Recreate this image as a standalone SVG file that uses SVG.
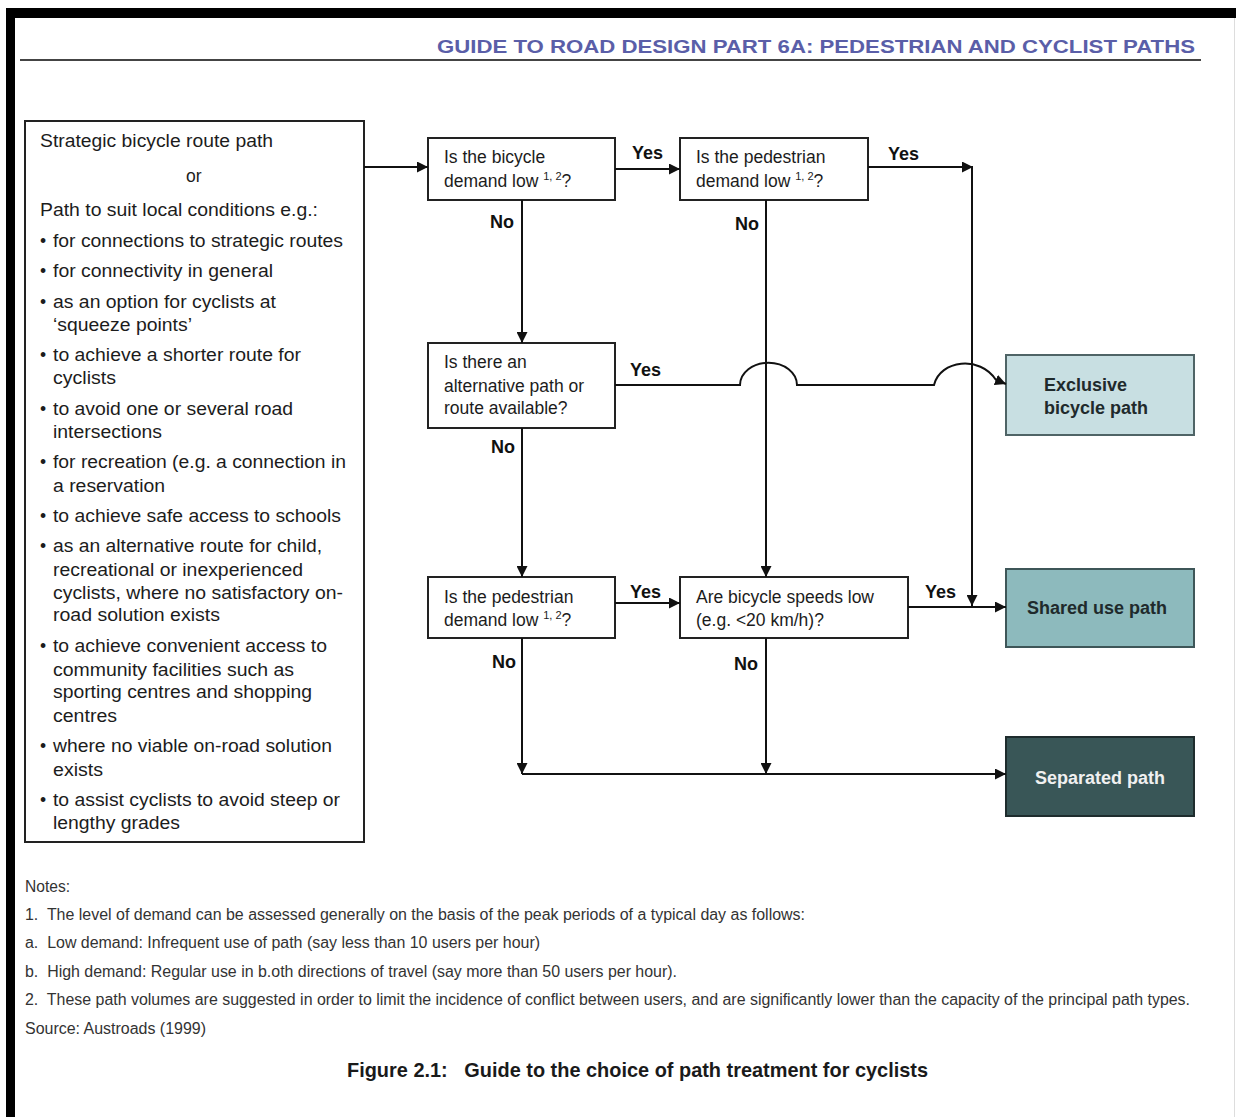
<svg xmlns="http://www.w3.org/2000/svg" width="1236" height="1117" viewBox="0 0 1236 1117">
<defs>
<marker id="ah" viewBox="0 0 10 10" refX="10" refY="5" markerWidth="11" markerHeight="11" markerUnits="userSpaceOnUse" orient="auto">
<path d="M0,0 L10,5 L0,10 z" fill="#111"/>
</marker>
</defs>
<style>
.t{font-family:"Liberation Sans",Arial,sans-serif;font-size:17.5px;fill:#1c1c1c}
.lbl{font-family:"Liberation Sans",Arial,sans-serif;font-size:18px;font-weight:bold;fill:#111}
.box{fill:#fff;stroke:#222;stroke-width:2}
.sup{font-size:11px}
.term{font-family:"Liberation Sans",Arial,sans-serif;font-size:18px;font-weight:bold}
.conn{fill:none;stroke:#111;stroke-width:2}
.note{font-family:"Liberation Sans",Arial,sans-serif;font-size:16px;fill:#333}
</style>
<rect x="0" y="0" width="1236" height="1117" fill="#fff"/>
<!-- frame -->
<rect x="6" y="8" width="1230" height="10" fill="#000"/>
<rect x="6" y="8" width="9" height="1109" fill="#000"/>
<line x1="1234.5" y1="18" x2="1234.5" y2="1117" stroke="#ddd" stroke-width="1"/>
<!-- header -->
<text x="437" y="53" font-family="'Liberation Sans',Arial,sans-serif" font-size="19" font-weight="bold" fill="#5a5ea8" textLength="758" lengthAdjust="spacingAndGlyphs">GUIDE TO ROAD DESIGN PART 6A: PEDESTRIAN AND CYCLIST PATHS</text>
<line x1="20" y1="60" x2="1201" y2="60" stroke="#444" stroke-width="2"/>

<!-- left box -->
<g id="source">
<rect class="box" x="25" y="121" width="339" height="721"/>
<text class="t" x="40" y="147" textLength="233" lengthAdjust="spacingAndGlyphs">Strategic bicycle route path</text>
<text class="t" x="186" y="182">or</text>
<text class="t" x="40" y="216" textLength="278" lengthAdjust="spacingAndGlyphs">Path to suit local conditions e.g.:</text>
<g class="t">
<text x="40" y="247">•</text><text x="53" y="247" textLength="290" lengthAdjust="spacingAndGlyphs">for connections to strategic routes</text>
<text x="40" y="277">•</text><text x="53" y="277" textLength="220" lengthAdjust="spacingAndGlyphs">for connectivity in general</text>
<text x="40" y="308">•</text><text x="53" y="308" textLength="223" lengthAdjust="spacingAndGlyphs">as an option for cyclists at</text>
<text x="53" y="331" textLength="139" lengthAdjust="spacingAndGlyphs">‘squeeze points’</text>
<text x="40" y="361">•</text><text x="53" y="361" textLength="248" lengthAdjust="spacingAndGlyphs">to achieve a shorter route for</text>
<text x="53" y="384" textLength="63" lengthAdjust="spacingAndGlyphs">cyclists</text>
<text x="40" y="415">•</text><text x="53" y="415" textLength="240" lengthAdjust="spacingAndGlyphs">to avoid one or several road</text>
<text x="53" y="438" textLength="109" lengthAdjust="spacingAndGlyphs">intersections</text>
<text x="40" y="468">•</text><text x="53" y="468" textLength="293" lengthAdjust="spacingAndGlyphs">for recreation (e.g. a connection in</text>
<text x="53" y="492" textLength="112" lengthAdjust="spacingAndGlyphs">a reservation</text>
<text x="40" y="522">•</text><text x="53" y="522" textLength="288" lengthAdjust="spacingAndGlyphs">to achieve safe access to schools</text>
<text x="40" y="552">•</text><text x="53" y="552" textLength="269" lengthAdjust="spacingAndGlyphs">as an alternative route for child,</text>
<text x="53" y="576" textLength="250" lengthAdjust="spacingAndGlyphs">recreational or inexperienced</text>
<text x="53" y="599" textLength="290" lengthAdjust="spacingAndGlyphs">cyclists, where no satisfactory on-</text>
<text x="53" y="621" textLength="167" lengthAdjust="spacingAndGlyphs">road solution exists</text>
<text x="40" y="652">•</text><text x="53" y="652" textLength="274" lengthAdjust="spacingAndGlyphs">to achieve convenient access to</text>
<text x="53" y="676" textLength="241" lengthAdjust="spacingAndGlyphs">community facilities such as</text>
<text x="53" y="698" textLength="259" lengthAdjust="spacingAndGlyphs">sporting centres and shopping</text>
<text x="53" y="722" textLength="64" lengthAdjust="spacingAndGlyphs">centres</text>
<text x="40" y="752">•</text><text x="53" y="752" textLength="279" lengthAdjust="spacingAndGlyphs">where no viable on-road solution</text>
<text x="53" y="776" textLength="50" lengthAdjust="spacingAndGlyphs">exists</text>
<text x="40" y="806">•</text><text x="53" y="806" textLength="287" lengthAdjust="spacingAndGlyphs">to assist cyclists to avoid steep or</text>
<text x="53" y="829" textLength="127" lengthAdjust="spacingAndGlyphs">lengthy grades</text>
</g>
</g>

<!-- decision nodes -->
<g id="q-bicycle-demand">
<rect class="box" x="428" y="138" width="187" height="62"/>
<text class="t" x="444" y="163">Is the bicycle</text>
<text class="t" x="444" y="187">demand low <tspan class="sup" dy="-7">1, 2</tspan><tspan dy="7">?</tspan></text>
</g>
<g id="q-ped-demand-1">
<rect class="box" x="680" y="138" width="188" height="62"/>
<text class="t" x="696" y="163">Is the pedestrian</text>
<text class="t" x="696" y="187">demand low <tspan class="sup" dy="-7">1, 2</tspan><tspan dy="7">?</tspan></text>
</g>
<g id="q-alternative">
<rect class="box" x="428" y="343" width="187" height="85"/>
<text class="t" x="444" y="368">Is there an</text>
<text class="t" x="444" y="392">alternative path or</text>
<text class="t" x="444" y="414">route available?</text>
</g>
<g id="q-ped-demand-2">
<rect class="box" x="428" y="577" width="187" height="61"/>
<text class="t" x="444" y="603">Is the pedestrian</text>
<text class="t" x="444" y="626">demand low <tspan class="sup" dy="-7">1, 2</tspan><tspan dy="7">?</tspan></text>
</g>
<g id="q-speed">
<rect class="box" x="680" y="577" width="228" height="61"/>
<text class="t" x="696" y="603">Are bicycle speeds low</text>
<text class="t" x="696" y="626">(e.g. &lt;20 km/h)?</text>
</g>

<!-- terminal nodes -->
<g id="exclusive">
<rect x="1006" y="355" width="188" height="80" fill="#c8dfe2" stroke="#4f6466" stroke-width="2"/>
<text class="term" x="1044" y="391" fill="#1f2a2c">Exclusive</text>
<text class="term" x="1044" y="414" fill="#1f2a2c">bicycle path</text>
</g>
<g id="shared">
<rect x="1006" y="569" width="188" height="78" fill="#8dbabd" stroke="#3e5658" stroke-width="2"/>
<text class="term" x="1097" y="614" text-anchor="middle" fill="#1f2a2c">Shared use path</text>
</g>
<g id="separated">
<rect x="1006" y="737" width="188" height="79" fill="#395657" stroke="#1e2c2d" stroke-width="2"/>
<text class="term" x="1100" y="784" text-anchor="middle" fill="#f0f0f0">Separated path</text>
</g>

<!-- connectors -->
<g id="connectors">
<path class="conn" d="M364,167 H428" marker-end="url(#ah)"/>
<path class="conn" d="M615,169 H680" marker-end="url(#ah)"/>
<path class="conn" d="M868,167 H973" marker-end="url(#ah)"/>
<path class="conn" d="M972,167 V606" marker-end="url(#ah)"/>
<path class="conn" d="M522,200 V343" marker-end="url(#ah)"/>
<path class="conn" d="M766,200 V577" marker-end="url(#ah)"/>
<path class="conn" d="M615,385 H740 A28,22 0 0 1 797,385 H934 C940,360 980,355 996,380 L1006,384" marker-end="url(#ah)"/>
<path class="conn" d="M615,603 H680" marker-end="url(#ah)"/>
<path class="conn" d="M908,607 H1006" marker-end="url(#ah)"/>
<path class="conn" d="M522,428 V577" marker-end="url(#ah)"/>
<path class="conn" d="M522,638 V774" marker-end="url(#ah)"/>
<path class="conn" d="M766,638 V774" marker-end="url(#ah)"/>
<path class="conn" d="M522,774 H1006" marker-end="url(#ah)"/>
<text class="lbl" x="632" y="159">Yes</text>
<text class="lbl" x="888" y="160">Yes</text>
<text class="lbl" x="490" y="228">No</text>
<text class="lbl" x="735" y="230">No</text>
<text class="lbl" x="630" y="376">Yes</text>
<text class="lbl" x="491" y="453">No</text>
<text class="lbl" x="630" y="598">Yes</text>
<text class="lbl" x="925" y="598">Yes</text>
<text class="lbl" x="492" y="668">No</text>
<text class="lbl" x="734" y="670">No</text>
</g>

<!-- notes -->
<g id="notes">
<text class="note" x="25" y="892" textLength="45" lengthAdjust="spacingAndGlyphs">Notes:</text>
<text class="note" x="25" y="920" textLength="780" lengthAdjust="spacingAndGlyphs">1.&#160; The level of demand can be assessed generally on the basis of the peak periods of a typical day as follows:</text>
<text class="note" x="25" y="948" textLength="515" lengthAdjust="spacingAndGlyphs">a.&#160; Low demand: Infrequent use of path (say less than 10 users per hour)</text>
<text class="note" x="25" y="977" textLength="652" lengthAdjust="spacingAndGlyphs">b.&#160; High demand: Regular use in b.oth directions of travel (say more than 50 users per hour).</text>
<text class="note" x="25" y="1005" textLength="1165" lengthAdjust="spacingAndGlyphs">2.&#160; These path volumes are suggested in order to limit the incidence of conflict between users, and are significantly lower than the capacity of the principal path types.</text>
<text class="note" x="25" y="1034" textLength="181" lengthAdjust="spacingAndGlyphs">Source: Austroads (1999)</text>
<text x="347" y="1077" font-family="'Liberation Sans',Arial,sans-serif" font-size="21" font-weight="bold" fill="#1a1a1a" textLength="581" lengthAdjust="spacingAndGlyphs">Figure 2.1:&#160;&#160;&#160;Guide to the choice of path treatment for cyclists</text>
</g>
</svg>
